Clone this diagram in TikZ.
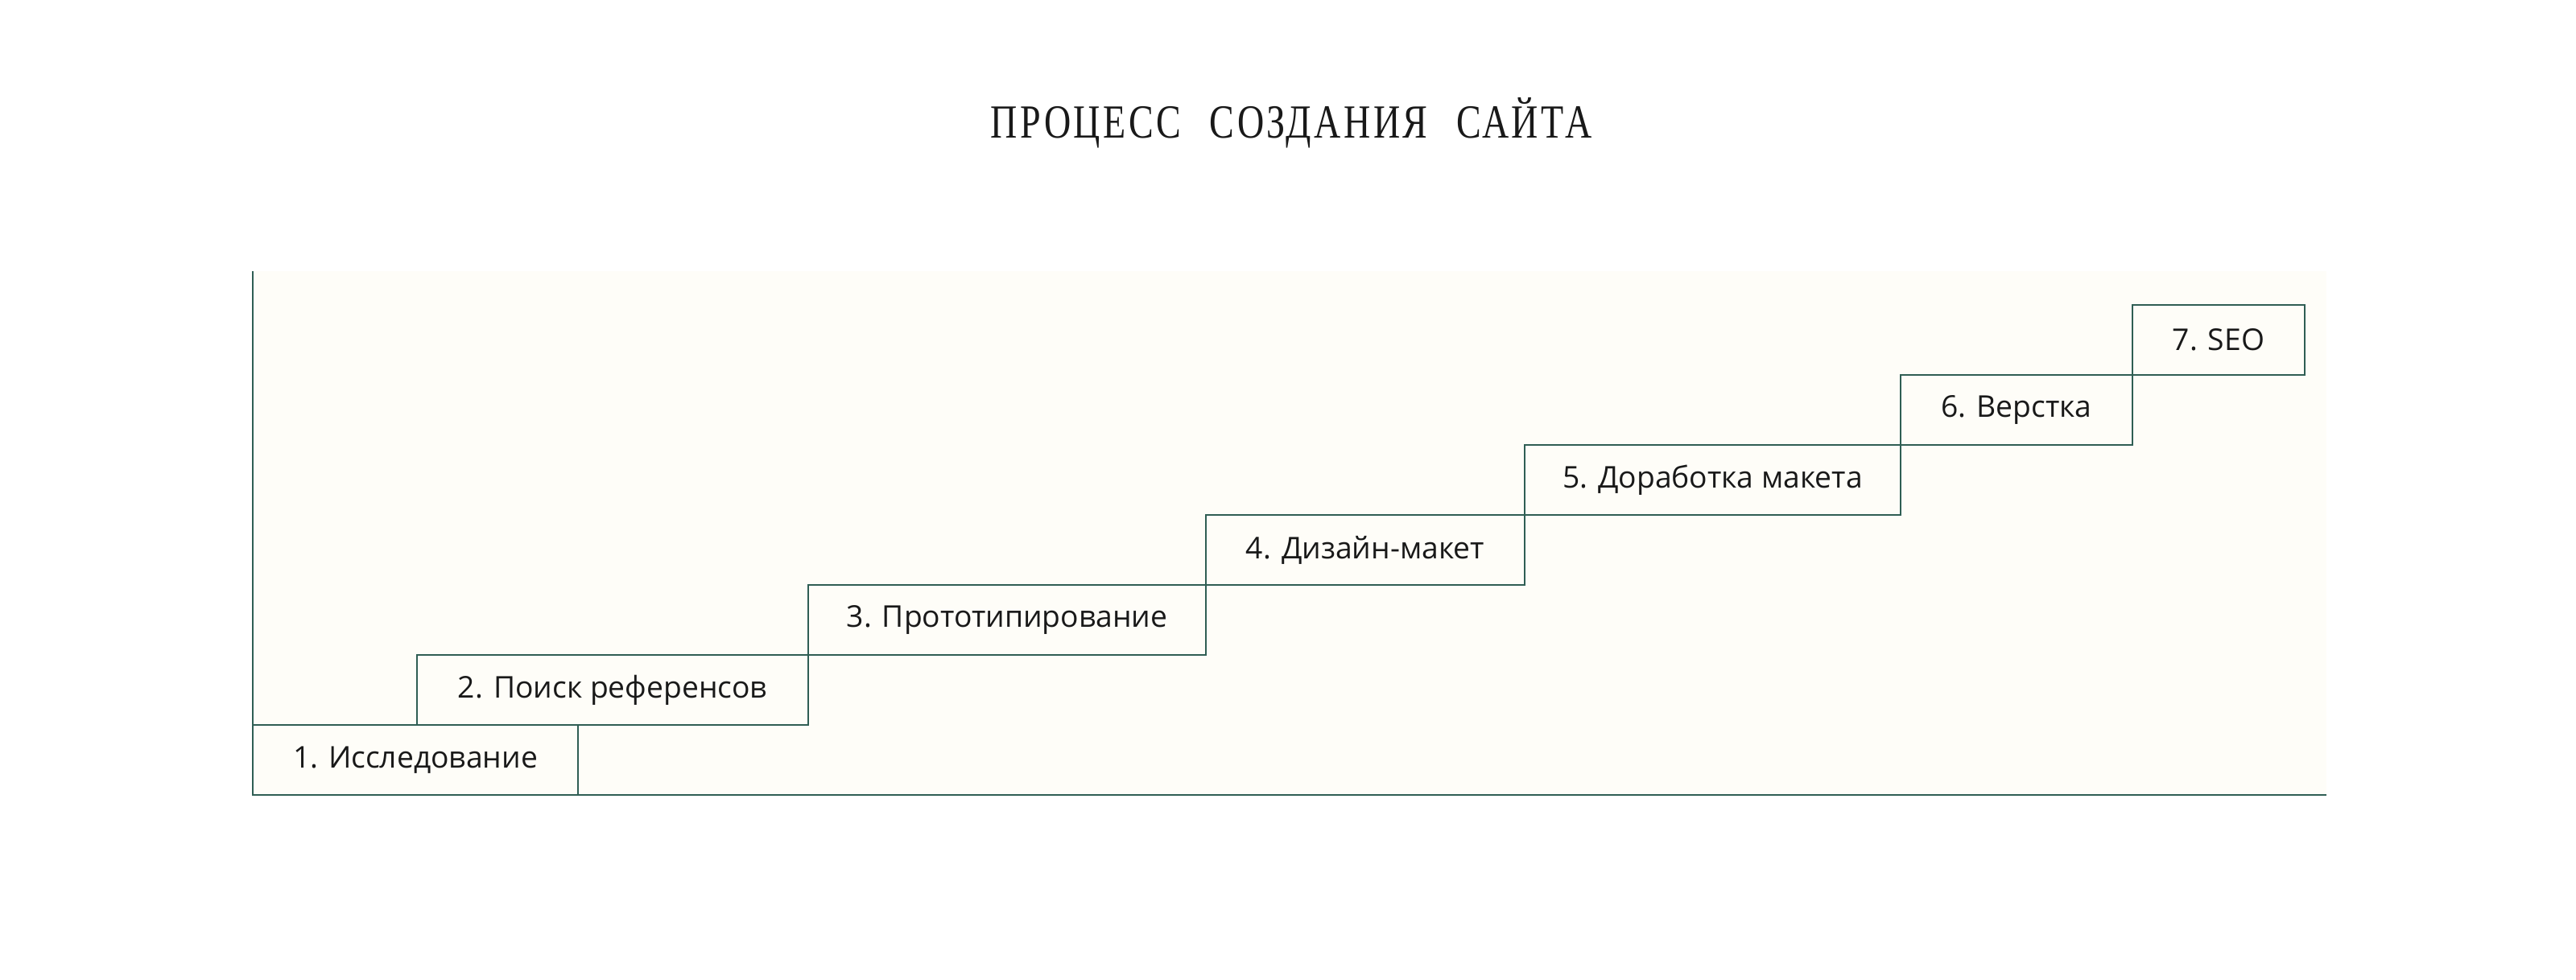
\documentclass[tikz,border=0pt]{standalone}
\usepackage{fontspec}
\usepackage{xcolor}
\usetikzlibrary{positioning}
\newfontfamily\stepfont{Open Sans}
\newfontfamily\titlefont[FakeStretch=0.78,LetterSpace=6]{Liberation Serif}
\definecolor{linegreen}{RGB}{47,94,84}
\definecolor{paper}{RGB}{254,253,248}
\definecolor{ink}{RGB}{25,25,25}
\tikzset{
	stepbox/.style={draw=linegreen, line width=0.6pt, fill=paper, anchor=south west,
		minimum height=0.87cm, inner sep=0pt, outer sep=0pt,
		font=\stepfont\fontsize{10.6}{12}\selectfont, text=ink},
	axis/.style={draw=linegreen, line width=0.6pt},
}

\begin{document}
\begin{tikzpicture}
	\useasboundingbox (0,0) rectangle (32,-12.18);
	% title
	\node[text=ink, font=\titlefont\fontsize{16.8}{18}\selectfont] (title) at (16.04,-1.53)
		{ПРОЦЕСС\hspace{0.6em}СОЗДАНИЯ\hspace{0.6em}САЙТА};

	% background and axes
	\coordinate (top) at (3.14,-3.37);
	\coordinate (origin) at (3.14,-9.88);
	\coordinate (end) at (28.90,-9.88);
	\fill[paper] (top) rectangle (end);
	\draw[axis] (top) -- (origin) -- (end);

	% steps
	\node[stepbox, minimum width=4.04cm] (s1) at (origin) {1. Исследование};
	\node[stepbox, minimum width=4.86cm] (s2) at (5.18,-9.01) {2. Поиск референсов};
	\node[stepbox, minimum width=4.94cm] (s3) at (s2.north east) {3. Прототипирование};
	\node[stepbox, minimum width=3.96cm] (s4) at (s3.north east) {4. Дизайн-макет};
	\node[stepbox, minimum width=4.67cm] (s5) at (s4.north east) {5. Доработка макета};
	\node[stepbox, minimum width=2.88cm] (s6) at (s5.north east) {6. Верстка};
	\node[stepbox, minimum width=2.14cm] (s7) at (s6.north east) {7. SEO};
\end{tikzpicture}
\end{document}
